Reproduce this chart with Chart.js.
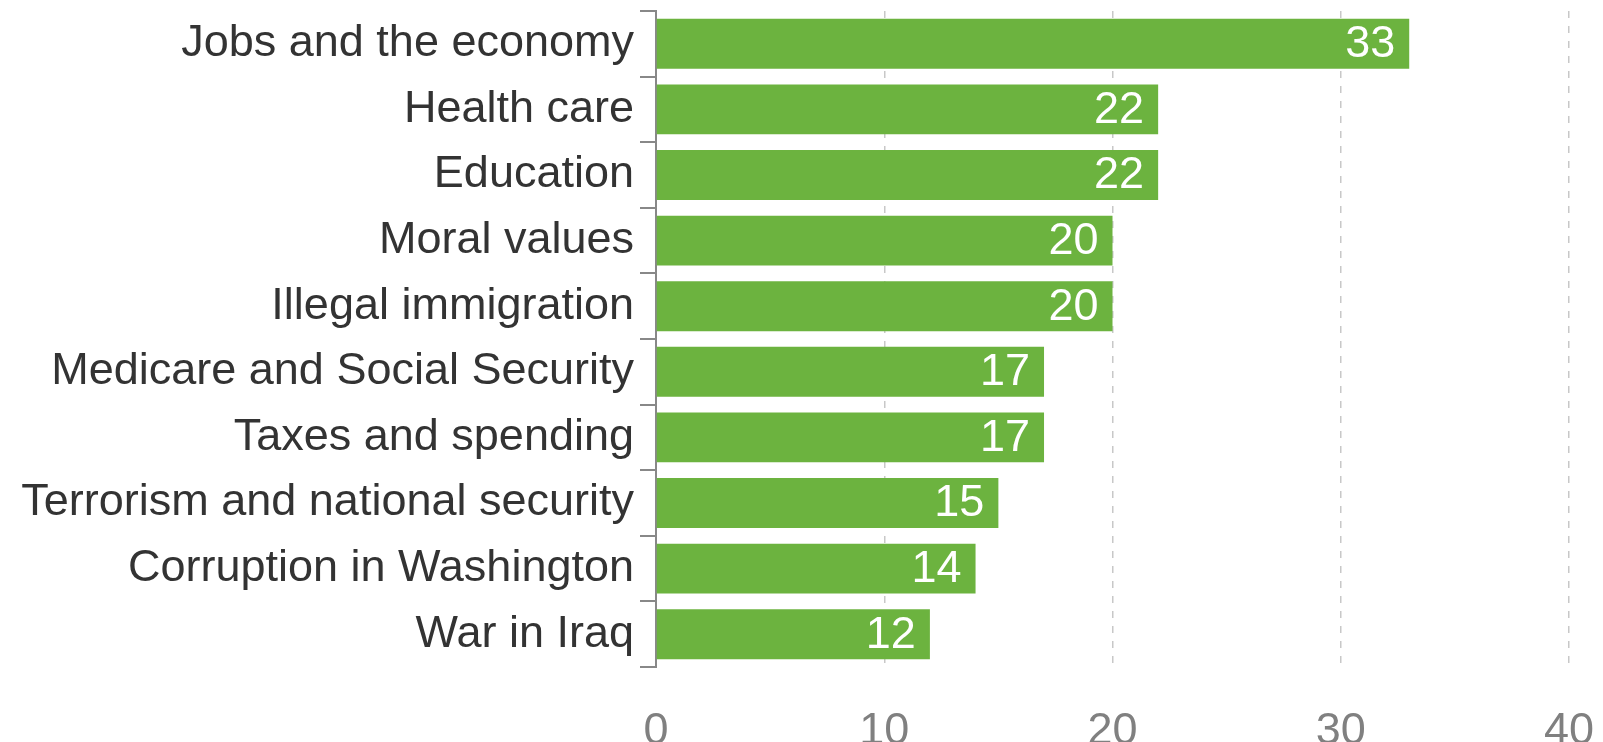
<!DOCTYPE html>
<html>
<head>
<meta charset="utf-8">
<script src="https://cdn.jsdelivr.net/npm/chart.js@4.4.1/dist/chart.umd.min.js"></script>
<style>
  html,body{margin:0;padding:0;background:#fff;}
  #wrap{width:1603px;height:742px;position:relative;}
</style>
</head>
<body>
<div id="wrap"><canvas id="chart_bars"></canvas></div>
<script>
// ---------- data ----------
const issues = ['Jobs and the economy','Health care','Education','Moral values','Illegal immigration',
  'Medicare and Social Security','Taxes and spending','Terrorism and national security',
  'Corruption in Washington','War in Iraq'];
const shares = [33, 22, 22, 20, 20, 17, 17, 15, 14, 12];
const xTicks = [0, 10, 20, 30, 40];

const FONT = "'Liberation Sans', Arial, sans-serif";
const GREEN = '#6cb33f';

// white value label just inside the bar end
const valueLabels = {
  id: 'valueLabels',
  afterDatasetsDraw(chart){
    const {ctx} = chart;
    const meta = chart.getDatasetMeta(0);
    ctx.save();
    ctx.font = '45px ' + FONT;
    ctx.fillStyle = '#ffffff';
    ctx.textAlign = 'right';
    ctx.textBaseline = 'middle';
    meta.data.forEach((bar, i) => {
      ctx.fillText(String(shares[i]), bar.x - 14, bar.y + 1);
    });
    ctx.restore();
  }
};

function makeBars(){
  const ctx = document.getElementById('chart_bars').getContext('2d');
  return new Chart(ctx, {
    type: 'bar',
    data: {labels: issues, datasets: [{data: shares, backgroundColor: GREEN, borderWidth: 0,
      barPercentage: 0.76, categoryPercentage: 1}]},
    options: {
      indexAxis: 'y', responsive: true, maintainAspectRatio: false, animation: false,
      layout: {padding: {top: 11, right: 34, left: 0, bottom: 0}},
      scales: {
        x: {
          type: 'linear', min: 0, max: 40,
          afterBuildTicks: (s) => { s.ticks = xTicks.map(v => ({value: v})); },
          afterFit: (s) => { s.height = 75; s.paddingLeft = 0; s.paddingRight = 0; },
          border: {display: false},
          grid: {
            drawTicks: false,
            color: (c) => c.tick && c.tick.value === 0 ? 'rgba(0,0,0,0)' : '#c8c8c8',
            lineWidth: 1.5
          },
          ticks: {color: '#808080', font: {family: FONT, size: 45}, padding: 38, maxRotation: 0}
        },
        y: {
          afterFit: (s) => { s.width = 656; s.paddingTop = 0; s.paddingBottom = 0; },
          border: {display: true, color: '#888888', width: 2},
          grid: {offset: true, drawOnChartArea: false, drawTicks: true, tickLength: 16, color: '#888888', lineWidth: 2},
          ticks: {color: '#333333', font: {family: FONT, size: 45}, padding: 6}
        }
      },
      plugins: {legend: {display: false}, tooltip: {enabled: false}}
    },
    plugins: [valueLabels]
  });
}

// dashed vertical gridlines
const barChart = makeBars();
barChart.options.scales.x.grid.borderDash = [7, 8];
barChart.options.scales.x.border.dash = [7, 8];
barChart.update('none');
</script>
</body>
</html>
